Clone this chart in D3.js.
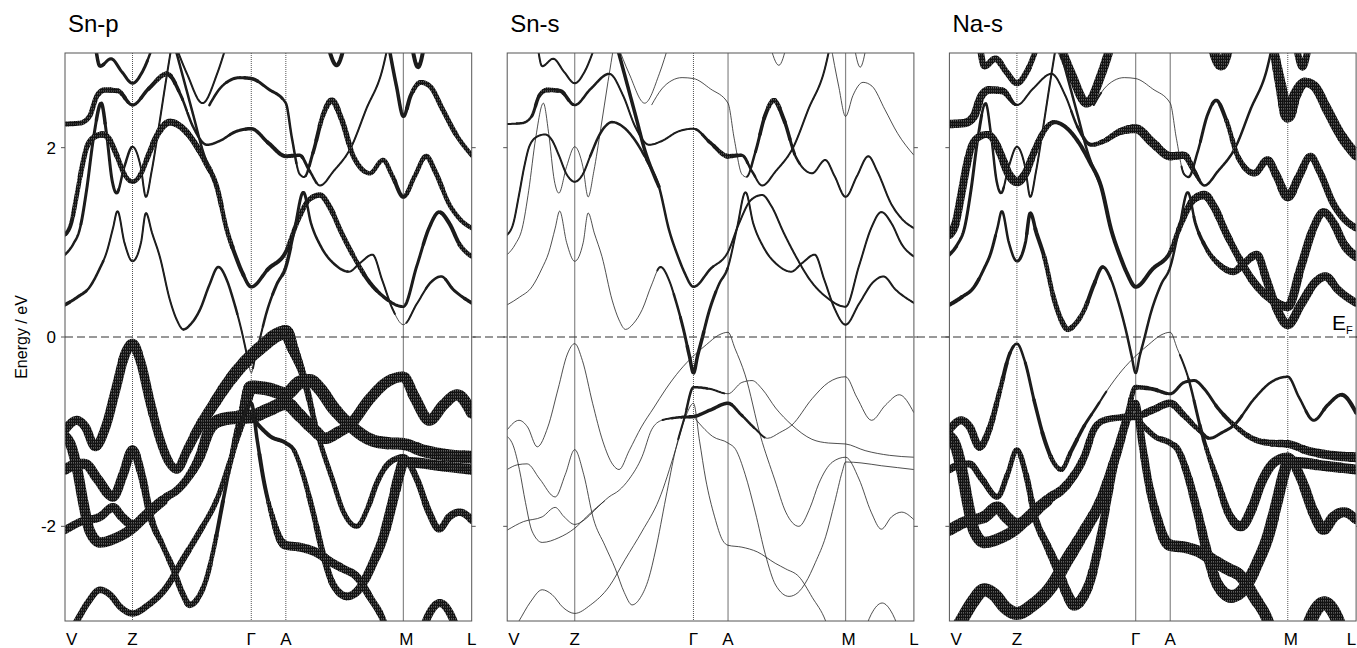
<!DOCTYPE html>
<html lang="en">
<head>
<meta charset="utf-8" />
<title>Fat bands: Sn-p, Sn-s, Na-s</title>
<script src="https://cdnjs.cloudflare.com/ajax/libs/d3/7.8.5/d3.min.js"></script>
<style>
    body { margin: 0; background: #fff; }
    svg { display: block; font-family: "Liberation Sans", Arial, sans-serif; }
</style>
</head>
<body>
<script>
    // ---- data ----
    // k path positions (path length units, 0..100) and labels
    const kLabels = ["V", "Z", "Γ", "A", "M", "L"];
    const kTicks = [0, 16.6, 45.8, 54.3, 83.2, 100];
    const eTicks = [-2, 0, 2];
    const panelNames = ["Sn-p", "Sn-s", "Na-s"];

    // bands: [k, E(eV)]
    const LA = [[7.4,3.1],[8.6,2.86],[11.3,2.94],[14,2.8],[16.6,2.68],[19,2.8],[21.8,3.1]];
    const LB = [[0,2.25],[3.7,2.26],[6,2.33],[7.9,2.55],[9.8,2.61],[13,2.6],[16.6,2.45],[20.5,2.62],[25.1,2.78],[28.5,2.55],[31.5,2.22],[34.9,2.03],[38,2.07],[42,2.17],[45.8,2.2],[50,2.05],[54.3,1.91],[57.7,1.92],[60.2,1.75],[62.7,1.6],[66,1.75],[70.4,2.01],[74,2.4],[78.2,2.85],[79.5,3.1]];
    const LU = [[27,3.1],[30,2.78],[33.8,2.47],[37.4,2.78],[39.8,3.1]];
    const LG = [[35.5,2.45],[38,2.62],[40.5,2.71],[43,2.74],[45.8,2.73],[50,2.62],[54.3,2.47],[55.8,2.1],[57.7,1.72],[58.8,1.69],[61,1.95],[63.5,2.35],[65.6,2.5],[68,2.3],[71,1.9],[75,1.73],[78.2,1.87],[80.5,1.7],[83.2,1.48],[86,1.7],[88.8,1.91],[91,1.75],[94.5,1.4],[97,1.25],[100,1.15]];
    const LM = [[79.5,3.1],[81.5,2.65],[83.2,2.33],[85,2.55],[87.5,2.69],[89.7,2.65],[92.9,2.4],[96,2.15],[100,1.92]];
    const LS1 = [[64.5,3.1],[66.8,2.87],[68.8,3.1]];
    const LS2 = [[85.2,3.1],[86.8,2.85],[88.4,3.1]];
    const LZ = [[0,0.87],[2,0.98],[3.7,1.15],[5.3,1.55],[7,2.1],[8.9,2.47],[10.2,2.15],[11.6,1.65],[12.7,1.52],[14.6,1.8],[16.6,2.01],[18.6,1.8],[19.9,1.48],[21.3,1.75],[23,2.2],[24.8,2.7],[26.3,3.1]];
    const LT = [[0,1.08],[1.5,1.2],[2.9,1.5],[4.2,1.8],[5.5,2.02],[7.5,2.12],[9.3,2.14],[11,2.08],[12.7,1.92],[14.6,1.72],[16.6,1.64],[18.6,1.72],[20.5,1.92],[22.5,2.12],[24,2.22],[25.8,2.27],[28.5,2.22],[31.4,2.08],[34.5,1.85],[37.3,1.59],[39.8,1.13],[42,0.85],[43.6,0.68],[45.8,0.53],[50,0.72],[54.3,0.9],[57,1.2],[60,1.45],[62.7,1.5],[65,1.38],[68,1.1],[71,0.85],[74.5,0.6],[78.5,0.42],[83.2,0.32],[86.5,0.75],[89.5,1.15],[92,1.32],[94.5,1.2],[97,0.98],[100,0.85]];
    const LX = [[26.8,3.1],[29,2.75],[31.5,2.35],[34,1.95],[36,1.72],[37.3,1.59]];
    const CC = [[0,0.34],[3,0.42],[6.1,0.53],[8.5,0.72],[10.2,0.89],[11.8,1.15],[12.9,1.33],[14.6,1.0],[16.6,0.8],[18.7,1.0],[19.9,1.31],[21.4,1.1],[23.3,0.85],[25.8,0.39],[27.5,0.18],[29.1,0.08],[31,0.14],[33.2,0.29],[35.5,0.55],[37.7,0.74],[39.8,0.6],[41.4,0.39],[43.4,0.07],[44.8,-0.2],[45.8,-0.38],[46.8,-0.2],[47.9,-0.02],[49.5,0.25],[52,0.55],[54.3,0.74],[56.5,1.15],[58.6,1.53],[60.5,1.2],[63,0.95],[66.5,0.76],[69.8,0.69],[72.5,0.78],[75.6,0.87],[78,0.6],[80.5,0.3],[83.2,0.13],[86.5,0.35],[90,0.58],[92.5,0.64],[95.5,0.5],[100,0.36]];
    const V1 = [[0,-0.98],[2.9,-0.88],[5,-0.95],[7.4,-1.16],[10,-0.95],[12.5,-0.55],[14.8,-0.18],[16.6,-0.07],[18.5,-0.25],[21,-0.7],[23.5,-1.1],[26,-1.35],[27.5,-1.4],[30,-1.2],[33,-0.95],[36,-0.75],[39,-0.55],[42.5,-0.35],[45.8,-0.2],[49,-0.08],[52,0.02],[54.3,0.05],[56,-0.12],[58.5,-0.4],[62.3,-1.05],[65.8,-1.51],[68.5,-1.85],[71.7,-2.0],[74.5,-1.8],[76.6,-1.55],[80,-1.32],[83.2,-1.27],[86.5,-1.5],[89.5,-1.85],[92,-2.03],[94.5,-1.9],[97,-1.85],[100,-1.93]];
    const V2 = [[0,-1.05],[1.5,-1.15],[3,-1.4],[4.5,-1.75],[6.1,-2.05],[8.6,-2.17],[12.7,-2.12],[16.6,-2.02],[19.5,-1.9],[22,-1.8],[24,-1.73]];
    const D = [[0,-2.04],[4,-1.95],[8.6,-1.9],[11.8,-1.8],[14,-1.9],[16.6,-1.98],[19,-1.93],[21.5,-1.83],[25,-1.69],[27.5,-1.62],[30,-1.5],[33.2,-1.26],[35.5,-0.98],[38,-0.88],[42,-0.85],[45.8,-0.84],[50,-0.77],[54.3,-0.7],[57.5,-0.82],[61,-0.97],[64,-1.07],[67,-1.01],[70,-0.93],[75,-0.65],[79,-0.48],[83.2,-0.42],[86,-0.64],[89.6,-0.88],[93,-0.72],[96.4,-0.61],[100,-0.8]];
    const P = [[0,-1.4],[2.5,-1.35],[4.9,-1.34],[8,-1.5],[11.8,-1.69],[14.3,-1.45],[16.6,-1.19],[18.8,-1.45],[21.2,-1.92],[24,-2.2],[26.6,-2.45],[28.8,-2.7],[30.7,-2.83],[32.8,-2.75],[34.8,-2.55],[36.5,-2.25],[39,-1.7],[41.4,-1.19],[43.6,-0.85],[45.8,-0.53],[50,-0.55],[54.3,-0.6],[57.7,-0.48],[60.2,-0.46],[62.7,-0.55],[66,-0.75],[70,-0.93],[74.9,-1.08],[79,-1.12],[83.2,-1.13],[88,-1.2],[94,-1.25],[100,-1.27]];
    const VB = [[0,-3.2],[2.9,-3.0],[5.7,-2.8],[8.6,-2.67],[11,-2.72],[13.8,-2.86],[16.6,-2.92],[20.5,-2.83],[25,-2.64],[29,-2.35],[33.2,-2.05],[37.3,-1.72],[41.4,-1.19],[43.8,-0.85],[45.8,-0.7],[47.3,-1.1],[48.8,-1.5],[51,-1.9],[53,-2.15],[54.3,-2.2],[57.7,-2.22],[61.5,-2.27],[65.9,-2.39],[68.5,-2.45],[71.7,-2.53],[75,-2.75],[78.3,-3.0],[79.5,-3.15]];
    const VA2 = [[45.8,-0.84],[48,-0.95],[50.5,-1.05],[54.3,-1.12],[56.2,-1.19],[58.5,-1.45],[61,-1.85],[63.5,-2.3],[66,-2.62],[69.3,-2.74],[71.5,-2.7],[73.3,-2.6],[75.8,-2.38],[78.3,-2.11],[80.5,-1.75],[82.4,-1.42],[83.2,-1.32],[87,-1.33],[92,-1.36],[96,-1.38],[100,-1.4]];
    const VH = [[87.5,-3.15],[89.5,-2.93],[92.2,-2.81],[94.8,-2.93],[96.8,-3.15]];

    // projection weights per band: [k, Sn-p, Sn-s, Na-s]
    const wLA = [[7,0.2,0.1,0.4],[12,0.18,0.1,0.4],[22,0.15,0.1,0.35]];
    const wLB = [[0,0.3,0.1,0.55],[6,0.3,0.15,0.55],[10,0.35,0.3,0.5],[13,0.3,0.25,0.45],[16.6,0.15,0.15,0.12],[25,0.3,0.12,0.12],[30,0.12,0.1,0.12],[40,0.15,0.1,0.35],[45.8,0.2,0.1,0.6],[54.3,0.25,0.3,0.55],[58,0.2,0.18,0.45],[62,0.12,0.1,0.15],[80,0.12,0.1,0.15]];
    const wLU = [[27,0.1,0.05,0.6],[40,0.1,0.05,0.6]];
    const wLG = [[35,0.12,0.08,0.1],[45.8,0.2,0.05,0.04],[54.3,0.15,0.03,0.03],[58.8,0.1,0.08,0.12],[65.6,0.38,0.3,0.2],[72,0.3,0.12,0.35],[83.2,0.25,0.1,0.6],[89,0.3,0.1,0.45],[100,0.28,0.1,0.45]];
    const wLM = [[79,0.2,0.05,0.5],[83.2,0.2,0.05,0.85],[88,0.32,0.05,0.6],[100,0.28,0.05,0.7]];
    const wLS1 = [[64,0.25,0.05,0.7],[69,0.25,0.05,0.7]];
    const wLS2 = [[85,0.25,0.05,0.45],[89,0.25,0.05,0.45]];
    const wLZ = [[0,0.12,0.05,0.2],[8.9,0.2,0.05,0.15],[16.6,0.12,0.05,0.1],[27,0.12,0.05,0.12]];
    const wLT = [[0,0.22,0.1,0.55],[9.3,0.4,0.1,0.45],[16.6,0.25,0.1,0.6],[25.8,0.45,0.15,0.25],[34,0.35,0.12,0.25],[45.8,0.2,0.15,0.25],[54.3,0.25,0.1,0.25],[62.7,0.35,0.1,0.55],[70,0.3,0.1,0.45],[83.2,0.15,0.1,0.6],[92,0.22,0.1,0.5],[100,0.28,0.1,0.6]];
    const wLX = [[26,0.15,0.2,0.15],[38,0.15,0.2,0.15]];
    const wCC = [[0,0.2,0.05,0.25],[12,0.1,0.05,0.15],[16.6,0.1,0.05,0.15],[29,0.12,0.05,0.35],[40,0.15,0.1,0.15],[45.8,0.08,0.22,0.12],[54.3,0.2,0.12,0.15],[60,0.15,0.12,0.15],[70,0.12,0.1,0.45],[83.2,0.08,0.1,0.6],[100,0.2,0.1,0.5]];
    const wV1 = [[0,0.6,0.05,0.5],[7.4,0.6,0.05,0.5],[16.6,0.65,0.03,0.12],[27.5,0.55,0.05,0.3],[40,0.8,0.05,0.06],[54.3,0.95,0.03,0.06],[58,0.5,0.05,0.1],[62,0.3,0.08,0.2],[71.7,0.3,0.08,0.65],[83.2,0.4,0.08,0.6],[92,0.45,0.08,0.75],[100,0.5,0.08,0.6]];
    const wV2 = [[0,0.7,0.03,0.75],[24,0.7,0.03,0.75]];
    const wD = [[0,0.5,0.05,0.75],[16.6,0.6,0.05,0.8],[30,0.5,0.05,0.55],[38,0.85,0.08,0.4],[45.8,0.9,0.2,0.45],[54.3,0.9,0.2,0.5],[64,0.75,0.08,0.18],[83.2,0.7,0.08,0.12],[100,0.75,0.08,0.25]];
    const wP = [[0,0.7,0.05,0.5],[16.6,0.6,0.05,0.3],[24,0.35,0.05,0.5],[30.7,0.4,0.05,0.75],[40,0.2,0.05,0.45],[45.8,0.9,0.15,0.3],[54.3,0.9,0.08,0.18],[65,0.85,0.08,0.18],[83.2,0.8,0.08,0.5],[100,0.85,0.08,0.65]];
    const wVB = [[0,0.4,0.05,0.85],[30,0.4,0.05,0.85],[40,0.3,0.05,0.65],[45.8,0.2,0.08,0.45],[50,0.25,0.08,0.55],[54.3,0.6,0.08,0.75],[61,0.6,0.08,0.75],[66,0.55,0.08,0.85],[72,0.5,0.08,0.8],[80,0.4,0.08,0.75]];
    const wVA2 = [[45.8,0.25,0.05,0.3],[56,0.25,0.05,0.4],[69.2,0.5,0.05,0.85],[83.2,0.7,0.05,0.75],[100,0.7,0.05,0.65]];
    const wVH = [[86,0.5,0.08,0.9],[98,0.5,0.08,0.9]];

    // high-symmetry line styles per panel (Z, Γ, A, M)
    const symStyles = [
        ["dot", "dot", "dot", "solid"],
        ["solid", "dot", "solid", "solid"],
        ["dot", "solid", "solid", "dot"]
    ];

    const bandList = [
        [LA, wLA], [LB, wLB], [LU, wLU], [LG, wLG], [LM, wLM], [LS1, wLS1], [LS2, wLS2],
        [LZ, wLZ], [LT, wLT], [LX, wLX], [CC, wCC],
        [V1, wV1], [V2, wV2], [D, wD], [P, wP], [VB, wVB], [VA2, wVA2], [VH, wVH]
    ];

    // ---- layout ----
    const width = 1357, height = 648;
    const yTop = 53, yBottom = 621;
    const panelLeft0 = 65, panelW = 406.7, panelStep = 442.2;

    const svg = d3.select("body").append("svg")
        .attr("width", width)
        .attr("height", height);

    const y = d3.scaleLinear().domain([-3, 3]).range([yBottom, yTop]);
    const widthScale = d3.scaleLinear().domain([0, 1]).range([0.5, 15]);

    const defs = svg.append("defs");

    // hatch texture for the fat bands
    const hatch = defs.append("pattern")
        .attr("id", "hatch")
        .attr("patternUnits", "userSpaceOnUse")
        .attr("width", 2).attr("height", 3);
    hatch.append("rect").attr("width", 2).attr("height", 3).attr("fill", "#111");
    hatch.append("rect").attr("x", 1.3).attr("width", 0.6).attr("height", 1.6)
        .attr("fill", "#fff").attr("fill-opacity", 0.55);

    // y axis title
    svg.append("text")
        .attr("transform", `translate(27,${y(0)}) rotate(-90)`)
        .attr("text-anchor", "middle")
        .style("font-size", "16px")
        .text("Energy / eV");

    function drawBand(g, pts, wts, pi, x) {
        const lineGen = d3.line().x(d => x(d[0])).y(d => y(d[1])).curve(d3.curveMonotoneX);
        const dStr = lineGen(pts);
        const wf = d3.scaleLinear()
            .domain(wts.map(r => r[0]))
            .range(wts.map(r => r[pi + 1]))
            .clamp(true);

        const tmp = g.append("path").attr("d", dStr).attr("fill", "none").attr("stroke", "none");
        const node = tmp.node();
        const len = node.getTotalLength();
        const step = 1.2;
        const runs = [];
        let prev = null;
        for (let s = 0; s <= len + step; s += step) {
            const p = node.getPointAtLength(Math.min(s, len));
            const pt = [p.x, p.y];
            const w = Math.round(widthScale(wf(x.invert(p.x))) * 2) / 2;
            if (!runs.length || runs[runs.length - 1].w !== w) {
                runs.push({ w: w, pts: prev ? [prev] : [] });
            }
            runs[runs.length - 1].pts.push(pt);
            prev = pt;
        }
        tmp.remove();

        runs.forEach(r => {
            if (r.pts.length < 2 || r.w <= 1.5) return;
            g.append("path")
                .attr("d", d3.line()(r.pts))
                .attr("fill", "none")
                .attr("stroke", r.w > 4 ? "url(#hatch)" : "#1a1a1a")
                .attr("stroke-width", r.w)
                .attr("stroke-linecap", "round")
                .attr("stroke-linejoin", "round");
        });

        g.append("path")
            .attr("d", dStr)
            .attr("fill", "none")
            .attr("stroke", "#222")
            .attr("stroke-width", 0.8);
    }

    panelNames.forEach((name, pi) => {
        const left = panelLeft0 + pi * panelStep;
        const x = d3.scaleLinear().domain([0, 100]).range([left, left + panelW]);

        defs.append("clipPath").attr("id", "clip" + pi)
            .append("rect")
            .attr("x", x(0)).attr("y", y(3))
            .attr("width", x(100) - x(0)).attr("height", y(-3) - y(3));

        const g = svg.append("g");

        // title
        g.append("text")
            .attr("x", x(0) + 3)
            .attr("y", 32)
            .style("font-size", "24px")
            .text(name);

        // high-symmetry vertical lines
        kTicks.slice(1, 5).forEach((k, i) => {
            const st = symStyles[pi][i];
            g.append("line")
                .attr("x1", x(k)).attr("x2", x(k))
                .attr("y1", y(3)).attr("y2", y(-3))
                .attr("stroke", st === "dot" ? "#555" : "#888")
                .attr("stroke-width", st === "dot" ? 1 : 1.2)
                .attr("stroke-dasharray", st === "dot" ? "1,1" : null);
        });

        // bands
        const gb = g.append("g").attr("clip-path", `url(#clip${pi})`);
        bandList.forEach(([pts, wts]) => drawBand(gb, pts, wts, pi, x));

        // frame
        g.append("rect")
            .attr("x", x(0)).attr("y", y(3))
            .attr("width", x(100) - x(0)).attr("height", y(-3) - y(3))
            .attr("fill", "none")
            .attr("stroke", "#555")
            .attr("stroke-width", 1);

        // ticks on both sides
        eTicks.forEach(e => {
            g.append("line")
                .attr("x1", x(0) - 4).attr("x2", x(0))
                .attr("y1", y(e)).attr("y2", y(e))
                .attr("stroke", "#555");
            g.append("line")
                .attr("x1", x(100)).attr("x2", x(100) + 4)
                .attr("y1", y(e)).attr("y2", y(e))
                .attr("stroke", "#555");
            if (pi === 0) {
                g.append("text")
                    .attr("x", x(0) - 9)
                    .attr("y", y(e))
                    .attr("dy", "0.35em")
                    .attr("text-anchor", "end")
                    .style("font-size", "17px")
                    .text(e);
            }
        });

        // k labels
        kLabels.forEach((lab, i) => {
            const last = i === kLabels.length - 1 && pi === panelNames.length - 1;
            g.append("text")
                .attr("x", i === 0 ? x(kTicks[i]) + 1 : x(kTicks[i]) + (i === 4 ? 3 : 0))
                .attr("y", 645)
                .attr("text-anchor", i === 0 ? "start" : (last ? "end" : "middle"))
                .style("font-size", "17px")
                .text(lab);
        });
    });

    // Fermi level dashed line across all panels
    svg.append("line")
        .attr("x1", panelLeft0).attr("x2", width)
        .attr("y1", y(0)).attr("y2", y(0))
        .attr("stroke", "#333")
        .attr("stroke-width", 1)
        .attr("stroke-dasharray", "8,4");

    const ef = svg.append("text")
        .attr("x", 1332)
        .attr("y", y(0) - 7)
        .style("font-size", "21px");
    ef.append("tspan").text("E");
    ef.append("tspan").attr("dy", 4).style("font-size", "11px").text("F");
</script>
</body>
</html>
